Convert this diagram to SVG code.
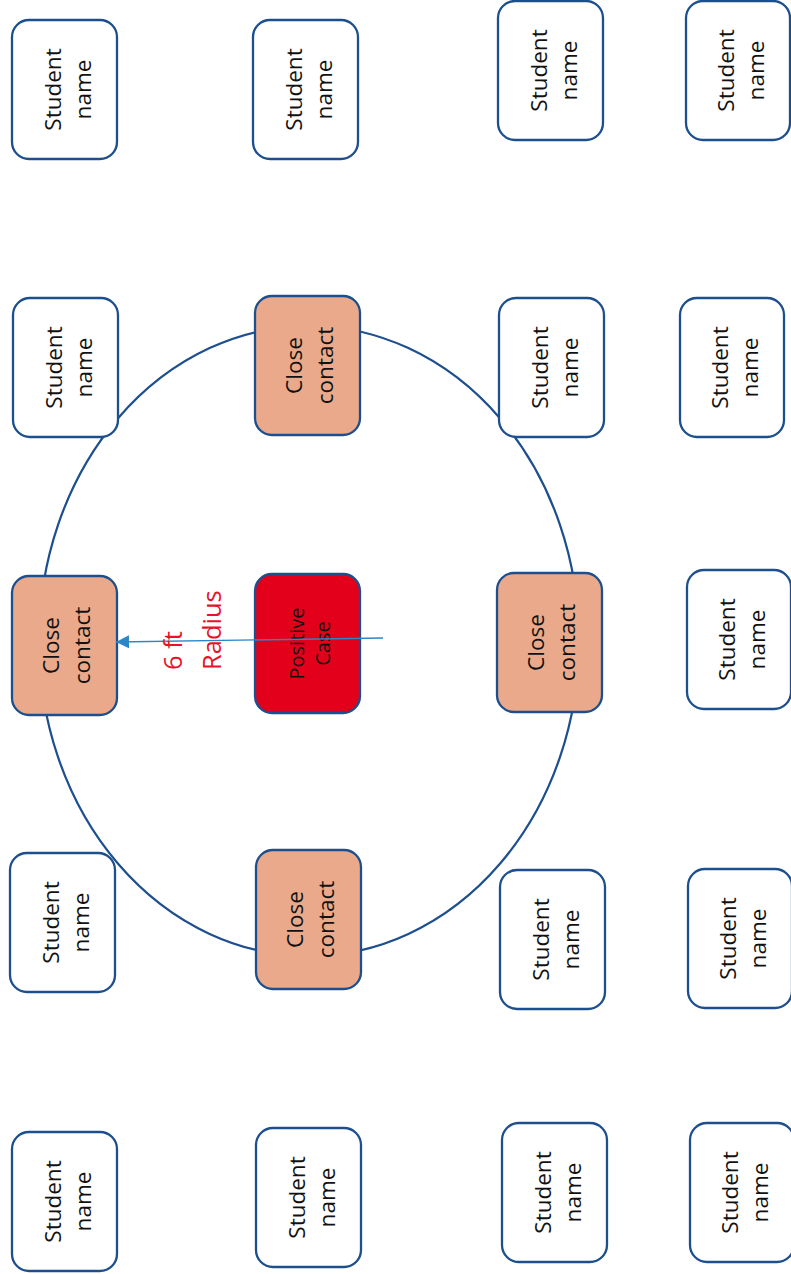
<svg xmlns="http://www.w3.org/2000/svg" width="791" height="1274" viewBox="0 0 791 1274">
<defs>
<style>
.box{stroke:#1d4f8f;stroke-width:2.3}
.st{fill:#ffffff}
.cc{fill:#e9a98a}
.pc{fill:#e2001b}
.lbl{font-family:"Open Sans","Noto Sans",sans-serif;font-size:22.5px;fill:#111111;text-anchor:middle}
.plbl{font-family:"Open Sans","Noto Sans",sans-serif;font-size:20px;fill:#111111;text-anchor:middle}
.rad{font-family:"Open Sans","Noto Sans",sans-serif;font-size:25.5px;fill:#e8132b}
</style>
<marker id="ah" viewBox="0 0 10 10" refX="10" refY="5" markerWidth="13" markerHeight="13" markerUnits="userSpaceOnUse" orient="auto">
<path d="M0,0 L10,5 L0,10 z" fill="#2b86c5"/>
</marker>
</defs>
<rect width="791" height="1274" fill="#ffffff"/>
<g id="circle">
<ellipse cx="309" cy="641" rx="270" ry="315" fill="none" stroke="#1d4f8f" stroke-width="2.2"/>
</g>
<g id="s-c1-r1"><rect class="box st" x="12" y="20" width="105" height="139" rx="17"/><text class="lbl" transform="translate(64.5,89.5) rotate(-90)"><tspan x="0" y="-4">Student</tspan><tspan x="0" y="26">name</tspan></text></g>
<g id="s-c1-r2"><rect class="box st" x="13" y="298" width="105" height="139" rx="17"/><text class="lbl" transform="translate(65.5,367.5) rotate(-90)"><tspan x="0" y="-4">Student</tspan><tspan x="0" y="26">name</tspan></text></g>
<g id="cc-left"><rect class="box cc" x="12" y="576" width="105" height="139" rx="17"/><text class="lbl" transform="translate(64.5,645.5) rotate(-90)"><tspan x="0" y="-6">Close</tspan><tspan x="0" y="25">contact</tspan></text></g>
<g id="s-c1-r4"><rect class="box st" x="10" y="853" width="105" height="139" rx="17"/><text class="lbl" transform="translate(62.5,922.5) rotate(-90)"><tspan x="0" y="-4">Student</tspan><tspan x="0" y="26">name</tspan></text></g>
<g id="s-c1-r5"><rect class="box st" x="12" y="1132" width="105" height="139" rx="17"/><text class="lbl" transform="translate(64.5,1201.5) rotate(-90)"><tspan x="0" y="-4">Student</tspan><tspan x="0" y="26">name</tspan></text></g>

<g id="s-c2-r1"><rect class="box st" x="253" y="20" width="105" height="139" rx="17"/><text class="lbl" transform="translate(305.5,89.5) rotate(-90)"><tspan x="0" y="-4">Student</tspan><tspan x="0" y="26">name</tspan></text></g>
<g id="cc-top"><rect class="box cc" x="255" y="296" width="105" height="139" rx="17"/><text class="lbl" transform="translate(307.5,365.5) rotate(-90)"><tspan x="0" y="-6">Close</tspan><tspan x="0" y="25">contact</tspan></text></g>
<g id="positive"><rect class="box pc" x="255" y="574" width="105" height="139" rx="17"/><text class="plbl" transform="translate(307.5,643.5) rotate(-90)"><tspan x="0" y="-4">Positive</tspan><tspan x="0" y="22">Case</tspan></text></g>
<g id="cc-bottom"><rect class="box cc" x="256" y="850" width="105" height="139" rx="17"/><text class="lbl" transform="translate(308.5,919.5) rotate(-90)"><tspan x="0" y="-6">Close</tspan><tspan x="0" y="25">contact</tspan></text></g>
<g id="s-c2-r5"><rect class="box st" x="256" y="1128" width="105" height="139" rx="17"/><text class="lbl" transform="translate(308.5,1197.5) rotate(-90)"><tspan x="0" y="-4">Student</tspan><tspan x="0" y="26">name</tspan></text></g>

<g id="s-c3-r1"><rect class="box st" x="498" y="1" width="105" height="139" rx="17"/><text class="lbl" transform="translate(550.5,70.5) rotate(-90)"><tspan x="0" y="-4">Student</tspan><tspan x="0" y="26">name</tspan></text></g>
<g id="s-c3-r2"><rect class="box st" x="499" y="298" width="105" height="139" rx="17"/><text class="lbl" transform="translate(551.5,367.5) rotate(-90)"><tspan x="0" y="-4">Student</tspan><tspan x="0" y="26">name</tspan></text></g>
<g id="cc-right"><rect class="box cc" x="497" y="573" width="105" height="139" rx="17"/><text class="lbl" transform="translate(549.5,642.5) rotate(-90)"><tspan x="0" y="-6">Close</tspan><tspan x="0" y="25">contact</tspan></text></g>
<g id="s-c3-r4"><rect class="box st" x="500" y="870" width="105" height="139" rx="17"/><text class="lbl" transform="translate(552.5,939.5) rotate(-90)"><tspan x="0" y="-4">Student</tspan><tspan x="0" y="26">name</tspan></text></g>
<g id="s-c3-r5"><rect class="box st" x="502" y="1123" width="105" height="139" rx="17"/><text class="lbl" transform="translate(554.5,1192.5) rotate(-90)"><tspan x="0" y="-4">Student</tspan><tspan x="0" y="26">name</tspan></text></g>

<g id="s-c4-r1"><rect class="box st" x="686" y="1" width="104" height="139" rx="17"/><text class="lbl" transform="translate(738,70.5) rotate(-90)"><tspan x="0" y="-4">Student</tspan><tspan x="0" y="26">name</tspan></text></g>
<g id="s-c4-r2"><rect class="box st" x="680" y="298" width="104" height="139" rx="17"/><text class="lbl" transform="translate(732,367.5) rotate(-90)"><tspan x="0" y="-4">Student</tspan><tspan x="0" y="26">name</tspan></text></g>
<g id="s-c4-r3"><rect class="box st" x="687" y="570" width="104" height="139" rx="17"/><text class="lbl" transform="translate(739,639.5) rotate(-90)"><tspan x="0" y="-4">Student</tspan><tspan x="0" y="26">name</tspan></text></g>
<g id="s-c4-r4"><rect class="box st" x="688" y="869" width="104" height="139" rx="17"/><text class="lbl" transform="translate(740,938.5) rotate(-90)"><tspan x="0" y="-4">Student</tspan><tspan x="0" y="26">name</tspan></text></g>
<g id="s-c4-r5"><rect class="box st" x="690" y="1123" width="104" height="139" rx="17"/><text class="lbl" transform="translate(742,1192.5) rotate(-90)"><tspan x="0" y="-4">Student</tspan><tspan x="0" y="26">name</tspan></text></g>

<g id="connectors">
<line x1="383" y1="638" x2="116" y2="642" stroke="#2b86c5" stroke-width="1.4" marker-end="url(#ah)"/>
</g>
<g id="radius-label">
<text class="rad" transform="translate(182,670) rotate(-90)"><tspan x="0" y="0">6 ft</tspan><tspan x="0" y="39">Radius</tspan></text>
</g>
</svg>
